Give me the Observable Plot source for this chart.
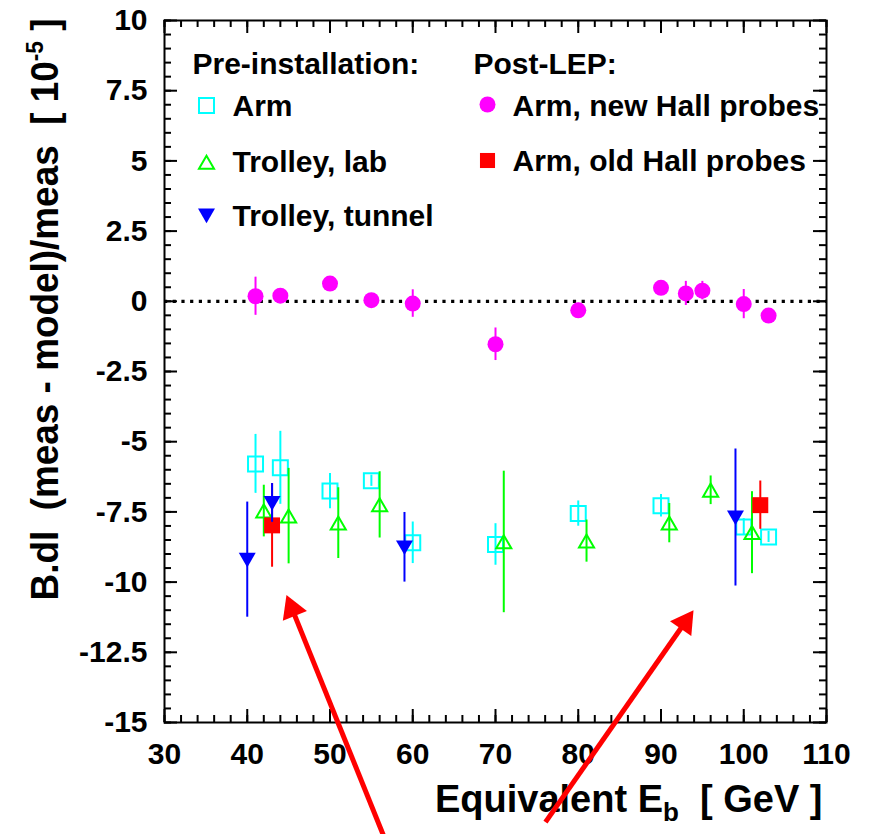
<!DOCTYPE html>
<html><head><meta charset="utf-8">
<script src="https://cdn.jsdelivr.net/npm/d3@7"></script>
<script src="https://cdn.jsdelivr.net/npm/@observablehq/plot@0.6"></script>
<style>
html,body{margin:0;padding:0;background:#fff;}
</style></head><body><div id="chart"></div>
<script>
// ---- data ----
const armX   = [41, 44, 50, 55, 60, 70, 80, 90, 100, 103];
const armY   = [-5.79, -5.93, -6.76, -6.39, -8.6, -8.66, -7.56, -7.28, -8.04, -8.39];
const armErr = [1.05, 1.3, 0.63, 0.2, 0.74, 0.74, 0.45, 0.4, 0.3, 0.2];

const labX   = [42, 45, 51, 56, 71, 81, 91, 96, 101];
const labY   = [-7.47, -7.65, -7.9, -7.25, -8.57, -8.54, -7.9, -6.73, -8.24];
const labErr = [0.92, 1.7, 1.26, 1.18, 2.52, 0.75, 0.7, 0.51, 1.46];

const tunX   = [40, 43, 59, 99];
const tunY   = [-9.2, -7.18, -8.76, -7.7];
const tunErr = [2.05, 0.69, 1.24, 2.44];

const newX   = [41, 44, 50, 55, 60, 70, 80, 90, 93, 95, 100, 103];
const newY   = [0.18, 0.2, 0.63, 0.04, -0.08, -1.53, -0.32, 0.48, 0.28, 0.38, -0.1, -0.51];
const newErr = [0.68, 0.2, 0.2, 0.2, 0.49, 0.58, 0.25, 0.2, 0.43, 0.33, 0.52, 0.2];

const oldX   = [43, 102];
const oldY   = [-7.98, -7.26];
const oldErr = [1.49, 0.86];

const xTicks = [30, 40, 50, 60, 70, 80, 90, 100, 110];
const yTicks = [10, 7.5, 5, 2.5, 0, -2.5, -5, -7.5, -10, -12.5, -15];

const legendHeads  = ["Pre-installation:", "Post-LEP:"];
const legendLabels = ["Arm", "Trolley, lab", "Trolley, tunnel", "Arm, new Hall probes", "Arm, old Hall probes"];

const arrowX1 = [56.47, 76.04];
const arrowY1 = [-19.03, -18.55];
const arrowX2 = [44.74, 93.93];
const arrowY2 = [-10.46, -11.0];

const yTitleParts = ["B.dl  (meas - model)/meas  [ 10", "-5", " ]"];
const xTitleParts = ["Equivalent E", "b", "  [ GeV ]"];

// ---- layout ----
const W = 870, H = 834, mL = 164, mR = 44, mT = 20, mB = 112;
const PW = W - mL - mR, PH = H - mT - mB;
const xDom = [30, 110], yDom = [-15, 10];
const kx = PW / (xDom[1] - xDom[0]);
const ky = PH / (yDom[1] - yDom[0]);

const C = {arm: "#00ffff", lab: "#00ff00", tun: "#0000ff", nw: "#ff00ff", old: "#ff0000"};

const ser = (xs, ys, es) => xs.map((x, i) => ({x, y: ys[i], e: es[i]}));
const arm = ser(armX, armY, armErr);
const lab = ser(labX, labY, labErr);
const tun = ser(tunX, tunY, tunErr);
const nw  = ser(newX, newY, newErr);
const old = ser(oldX, oldY, oldErr);

const err = (data, color) => Plot.ruleX(data, {x: "x", y1: d => d.y - d.e, y2: d => d.y + d.e, stroke: color, strokeWidth: 2});

// arrows: compute head centroid and rotation from data
const HEAD_BACK = 15;
const arrows = arrowX1.map((x1, i) => {
  const x2 = arrowX2[i], y2 = arrowY2[i], y1 = arrowY1[i];
  const px = (x2 - x1) * kx, py = -(y2 - y1) * ky;
  const L = Math.hypot(px, py), ux = px / L, uy = py / L;
  return {
    x1, y1,
    cx: x2 - HEAD_BACK * ux / kx,
    cy: y2 + HEAD_BACK * uy / ky,
    rot: Math.atan2(ux, -uy) * 180 / Math.PI
  };
});

const minorY = d3.range(-15, 10.001, 0.5);
const minorX = d3.range(30, 110.001, 2);
const fmt = d => String(d);
const MAJ = 13, MIN = 7;

// inward ticks on all four sides
const tickMarks = [
  Plot.tickY(yTicks, {y: d => d, insetRight: PW - MAJ, stroke: "black", strokeWidth: 2}),
  Plot.tickY(minorY, {y: d => d, insetRight: PW - MIN, stroke: "black", strokeWidth: 2}),
  Plot.tickY(yTicks, {y: d => d, insetLeft: PW - MAJ, stroke: "black", strokeWidth: 2}),
  Plot.tickY(minorY, {y: d => d, insetLeft: PW - MIN, stroke: "black", strokeWidth: 2}),
  Plot.tickX(xTicks, {x: d => d, insetTop: PH - MAJ, stroke: "black", strokeWidth: 2}),
  Plot.tickX(minorX, {x: d => d, insetTop: PH - MIN, stroke: "black", strokeWidth: 2}),
  Plot.tickX(xTicks, {x: d => d, insetBottom: PH - MAJ, stroke: "black", strokeWidth: 2}),
  Plot.tickX(minorX, {x: d => d, insetBottom: PH - MIN, stroke: "black", strokeWidth: 2})
];

const one = [0];
const legText = (t, dx, dy) => Plot.text(one, {x: null, y: null, text: () => t, frameAnchor: "top-left", dx, dy, textAnchor: "start", lineAnchor: "bottom", fill: "black"});
const legDot = (opts, dx, dy) => Plot.dot(one, {x: null, y: null, frameAnchor: "top-left", dx, dy, ...opts});

const symArm = {symbol: "square", r: 8.46, fill: "none", stroke: C.arm, strokeWidth: 2};
const symLab = {symbol: "triangle", r: 5.6, fill: "none", stroke: C.lab, strokeWidth: 2};
const symTun = {symbol: "triangle", r: 6.3, fill: C.tun, stroke: "none", rotate: 180};
const symNew = {symbol: "circle", r: 8, fill: C.nw, stroke: "none"};
const symOld = {symbol: "square", r: 9.0, fill: C.old, stroke: "none"};

const chart = Plot.plot({
  width: W, height: H,
  marginLeft: mL, marginRight: mR, marginTop: mT, marginBottom: mB,
  x: {domain: xDom, label: null},
  y: {domain: yDom, label: null},
  style: {fontFamily: "'Liberation Sans', Arial, sans-serif", fontSize: "30px", fontWeight: "bold", background: "white", overflow: "visible"},
  marks: [
    // zero line
    Plot.ruleY([0], {stroke: "black", strokeWidth: 3.2, strokeDasharray: "3.2,5.5"}),
    // axis labels
    Plot.axisX({ticks: xTicks, tickSize: 0, tickPadding: 20, tickFormat: fmt, label: null, fill: "black"}),
    Plot.axisY({ticks: yTicks, tickSize: 0, tickPadding: 17, tickFormat: fmt, label: null, fill: "black"}),
    ...tickMarks,
    Plot.frame({stroke: "black", strokeWidth: 2}),
    // data
    err(arm, C.arm),
    Plot.dot(arm, {x: "x", y: "y", ...symArm}),
    err(lab, C.lab),
    Plot.dot(lab, {x: "x", y: "y", dy: 2, ...symLab}),
    err(old, C.old),
    Plot.dot(old, {x: "x", y: "y", ...symOld}),
    err(tun, C.tun),
    Plot.dot(tun, {x: "x", y: "y", dy: -2, ...symTun}),
    err(nw, C.nw),
    Plot.dot(nw, {x: "x", y: "y", ...symNew}),
    // legend
    legText(legendHeads[0], 28, 53),
    legDot(symArm, 42, 85), legText(legendLabels[0], 68, 95),
    legDot(symLab, 42, 144), legText(legendLabels[1], 68, 151),
    legDot(symTun, 42, 193), legText(legendLabels[2], 68, 205),
    legText(legendHeads[1], 309, 53),
    legDot(symNew, 323, 84), legText(legendLabels[3], 348, 95),
    legDot({...symOld, r: 8.5}, 323, 140), legText(legendLabels[4], 348, 150),
    // axis titles
    Plot.text(one, {x: null, y: null, text: () => yTitleParts.join(""), frameAnchor: "top-left", dx: -119, dy: -2, rotate: -90, textAnchor: "end", lineAnchor: "middle", fontSize: 39, fill: "black"}),
    Plot.text(one, {x: null, y: null, text: () => xTitleParts.join(""), frameAnchor: "bottom-right", dx: -4, dy: 89, textAnchor: "end", lineAnchor: "bottom", fontSize: 38, fill: "black"}),
    // red annotation arrows
    Plot.link(arrows, {x1: "x1", y1: "y1", x2: "cx", y2: "cy", stroke: C.old, strokeWidth: 5}),
    Plot.dot(arrows, {x: "cx", y: "cy", symbol: "triangle", r: 9.65, fill: C.old, rotate: "rot"})
  ]
});

// rich text for the axis titles (superscript / subscript)
d3.select(chart).selectAll("text").each(function() {
  const t = this.textContent;
  if (t === yTitleParts.join("")) {
    const s = d3.select(this).style("white-space", "pre").text(null)
      .attr("textLength", 582).attr("lengthAdjust", "spacingAndGlyphs");
    s.append("tspan").text(yTitleParts[0]);
    s.append("tspan").attr("dy", -15).attr("font-size", 24).text(yTitleParts[1]);
    s.append("tspan").attr("dy", 15).text(yTitleParts[2]);
  } else if (t === xTitleParts.join("")) {
    const s = d3.select(this).style("white-space", "pre").text(null);
    s.append("tspan").text(xTitleParts[0]);
    s.append("tspan").attr("dy", 9).attr("font-size", 26).text(xTitleParts[1]);
    s.append("tspan").attr("dy", -9).text(xTitleParts[2]);
  }
});

document.getElementById("chart").appendChild(chart);
</script>
</body></html>
